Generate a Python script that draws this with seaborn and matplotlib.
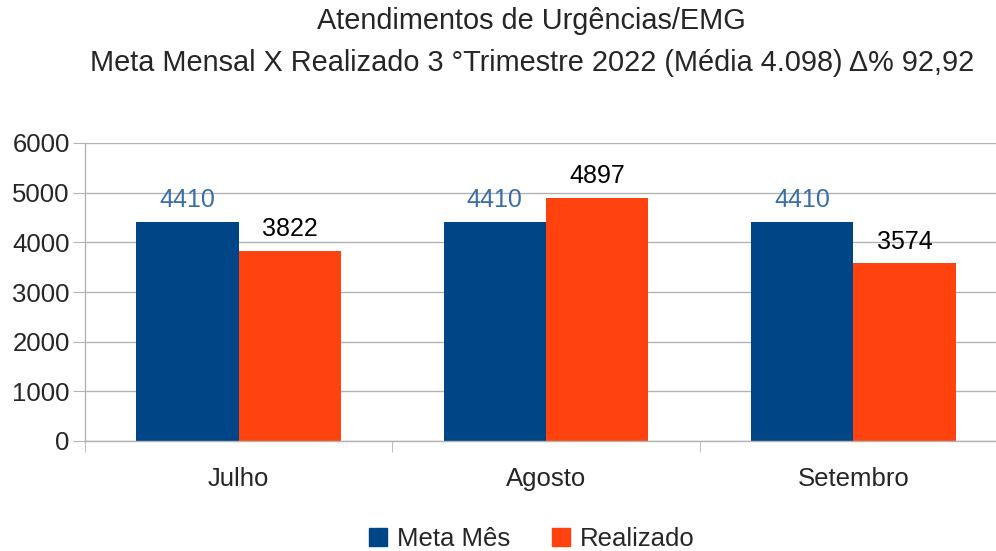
import matplotlib
matplotlib.use('Agg')
import matplotlib.pyplot as plt
import numpy as np
import pandas as pd
import seaborn as sns

meses = ['Julho', 'Agosto', 'Setembro']
meta_mes = [4410, 4410, 4410]
realizado = [3822, 4897, 3574]
series = ['Meta Mês', 'Realizado']
cores = ['#004586', '#ff420e']
cores_rotulo = ['#3a6ea8', '#000000']
titulo_1 = 'Atendimentos de Urgências/EMG'
titulo_2 = 'Meta Mensal X Realizado 3 °Trimestre 2022 (Média 4.098) Δ% 92,92'

df = pd.DataFrame({
    'mes': meses * 2,
    'valor': meta_mes + realizado,
    'serie': [series[0]] * 3 + [series[1]] * 3,
})

sns.set_style('white')
plt.rcParams['font.family'] = ['Liberation Sans', 'DejaVu Sans']

fig = plt.figure(figsize=(9.96, 5.51), dpi=100)
ax = fig.add_axes([85 / 996, 110 / 551, 922 / 996, 298 / 551])

sns.barplot(data=df, x='mes', y='valor', hue='serie', palette=cores,
            width=0.667, saturation=1, linewidth=0, ax=ax, legend=False)

for cont, cor in zip(ax.containers, cores_rotulo):
    ax.bar_label(cont, labels=[str(int(v)) for v in cont.datavalues],
                 color=cor, fontsize=18, padding=7)

ax.set_ylim(0, 6000)
ax.set_xlim(-0.5, 2.5)
ax.set_yticks(range(0, 6001, 1000))
ax.yaxis.grid(True, color='#b3b3b3', linewidth=1)
ax.set_axisbelow(True)
ax.set_xlabel('')
ax.set_ylabel('')

for s in ['top', 'right']:
    ax.spines[s].set_visible(False)
for s in ['left', 'bottom']:
    ax.spines[s].set_color('#b3b3b3')
    ax.spines[s].set_linewidth(1)

ax.tick_params(axis='y', direction='out', length=9, color='#b3b3b3', labelsize=18.5, pad=2, left=True)
ax.tick_params(axis='x', length=0, labelsize=18.5, pad=19)
ax.set_xticks([-0.5, 0.5, 1.5, 2.5], minor=True)
ax.tick_params(axis='x', which='minor', direction='out', length=8, color='#b3b3b3', bottom=True)

fig.text(0.534, 1 - 21 / 551, titulo_1, fontsize=20.8, ha='center', va='center')
fig.text(0.534, 1 - 63 / 551, titulo_2, fontsize=20.8, ha='center', va='center')

handles = [plt.Rectangle((0, 0), 1, 1, color=c) for c in cores]
fig.legend(handles, series, loc='lower center', bbox_to_anchor=(0.534, -0.042), ncol=2,
           frameon=False, fontsize=18.5, handlelength=0.7, handleheight=0.7,
           handletextpad=0.4, columnspacing=1.6)

plt.savefig('out.png', dpi=100)
